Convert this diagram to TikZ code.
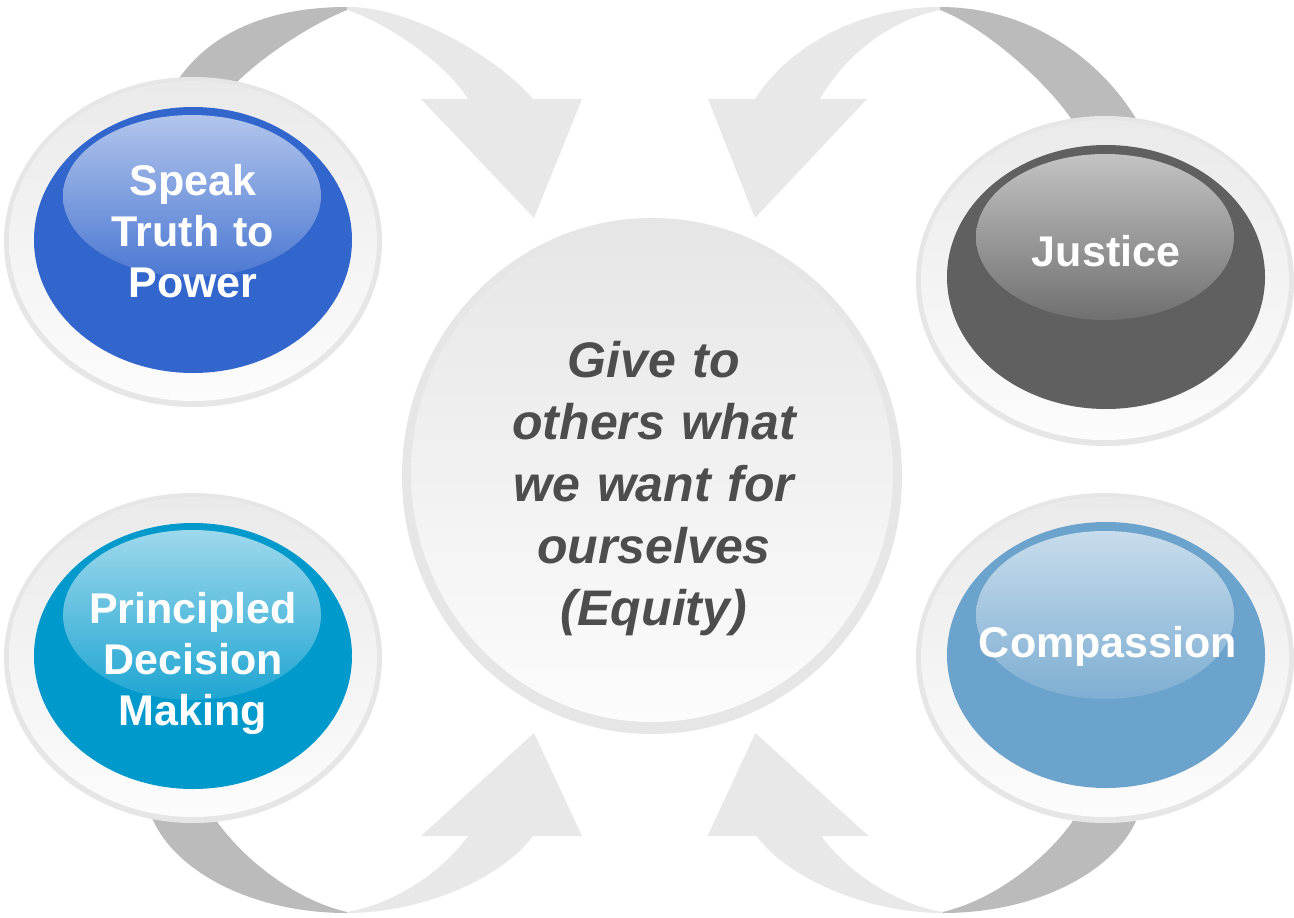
\documentclass[tikz,border=0pt]{standalone}
\usepackage{fontspec}
\setmainfont{Liberation Sans}
\definecolor{bandlight}{RGB}{232,232,232}
\definecolor{banddark}{RGB}{187,187,187}
\definecolor{ringedge}{RGB}{230,230,230}
\definecolor{ringtop}{RGB}{234,234,234}
\definecolor{ringbot}{RGB}{252,252,252}
\definecolor{cblue}{RGB}{51,102,204}
\definecolor{cgray}{RGB}{96,96,96}
\definecolor{ccyan}{RGB}{0,153,204}
\definecolor{csteel}{RGB}{108,163,204}
\definecolor{ctext}{RGB}{77,77,77}
\begin{document}
\begin{tikzpicture}[x=1pt,y=-1pt,
  lightband/.style={fill=bandlight},
  darkband/.style={fill=banddark},
  ringouter/.style={fill=ringedge},
  ringinner/.style={top color=ringtop,bottom color=ringbot},
  sidetext/.style={text=white,font=\fontsize{43}{51}\selectfont\bfseries,
    text width=330pt,align=center,anchor=base,inner sep=0pt},
  centertext/.style={text=ctext,font=\fontsize{50}{62}\selectfont\bfseries\itshape,
    text width=420pt,align=center,anchor=base,inner sep=0pt}]
\useasboundingbox (0,0) rectangle (1294,918);
\fill[white] (0,0) rectangle (1294,918);

% ---- top-left arrow
\fill[darkband] (162,96) -- (180,77) .. controls (210,35) and (265,7) .. (347,7)
  -- (347,10) .. controls (310,25) and (265,55) .. (238,81) -- (218,100) -- cycle;
\fill[lightband] (347,7) .. controls (405,6) and (492,52) .. (533,99) -- (582,99)
  -- (534,218) -- (421,99) -- (468,99) .. controls (445,62) and (385,22) .. (347,10) -- cycle;

% ---- top-right arrow
\fill[darkband] (940,7) .. controls (1030,7) and (1100,60) .. (1135,117) -- (1150,140)
  -- (1080,140) -- (1070,117) .. controls (1040,75) and (980,25) .. (940,10) -- cycle;
\fill[lightband] (940,7) .. controls (860,7) and (790,45) .. (755,99) -- (708,99)
  -- (755,218) -- (867,99) -- (820,99) .. controls (845,55) and (890,20) .. (940,10) -- cycle;

% ---- bottom-left arrow and its mirror (bottom-right)
\foreach \mirror in {0,1}{
\begin{scope}[shift={(1289.5*\mirror,0)},xscale=1-2*\mirror]
\fill[darkband] (135,795) -- (153,820) .. controls (175,870) and (250,913) .. (347,913)
  -- (347,912) .. controls (295,900) and (245,860) .. (218,823) -- (205,795) -- cycle;
\fill[lightband] (347,913) .. controls (420,913) and (500,880) .. (533,836) -- (582,836)
  -- (534,733) -- (421,836) -- (468,836) .. controls (440,875) and (390,905) .. (347,912) -- cycle;
\end{scope}}

% ---- top-left value
\fill[ringouter] (193,242) ellipse [x radius=189pt, y radius=165pt];
\path[ringinner] (193,241) ellipse [x radius=184pt, y radius=160pt];
\fill[cblue] (193,240) ellipse [x radius=159pt, y radius=133pt];
\path[top color=cblue!38!white, bottom color=cblue!88!white] (192,196) ellipse [x radius=129pt, y radius=81pt];
\node[sidetext] (speak) at (193,195) {Speak\\Truth to\\Power};

% ---- top-right value
\fill[ringouter] (1105,281) ellipse [x radius=189pt, y radius=165pt];
\path[ringinner] (1105,280) ellipse [x radius=184pt, y radius=160pt];
\fill[cgray] (1106,277) ellipse [x radius=159pt, y radius=132pt];
\path[top color=cgray!38!white, bottom color=cgray!90!white] (1105,237) ellipse [x radius=129pt, y radius=83pt];
\node[sidetext] (justice) at (1106,266) {Justice};

% ---- bottom-left value
\fill[ringouter] (193,658) ellipse [x radius=189pt, y radius=165pt];
\path[ringinner] (193,657) ellipse [x radius=184pt, y radius=160pt];
\fill[ccyan] (193,656) ellipse [x radius=159pt, y radius=133pt];
\path[top color=ccyan!38!white, bottom color=ccyan!88!white] (192,615) ellipse [x radius=129pt, y radius=85pt];
\node[sidetext] (principled) at (193,623) {Principled\\Decision\\Making};

% ---- bottom-right value
\fill[ringouter] (1105,658) ellipse [x radius=189pt, y radius=165pt];
\path[ringinner] (1105,657) ellipse [x radius=184pt, y radius=160pt];
\fill[csteel] (1106,655) ellipse [x radius=159pt, y radius=133pt];
\path[top color=csteel!38!white, bottom color=csteel!88!white] (1105,615) ellipse [x radius=129pt, y radius=84pt];
\node[sidetext] (compassion) at (1108,657) {Compassion};

% ---- centre
\fill[ringouter] (652,476) ellipse [x radius=250pt, y radius=258pt];
\path[top color=ringedge, bottom color=ringbot] (652,473) ellipse [x radius=241pt, y radius=249pt];
\node[centertext] (equity) at (654,377) {Give to\\others what\\we want for\\ourselves\\(Equity)};
\end{tikzpicture}
\end{document}
